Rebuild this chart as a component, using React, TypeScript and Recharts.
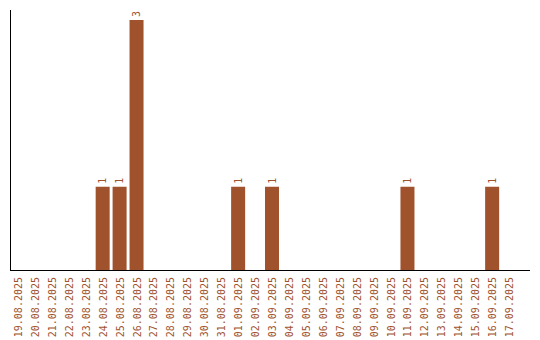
import { BarChart, Bar, XAxis, YAxis, LabelList } from 'recharts'

const dates = [
  '19.08.2025', '20.08.2025', '21.08.2025', '22.08.2025', '23.08.2025', '24.08.2025',
  '25.08.2025', '26.08.2025', '27.08.2025', '28.08.2025', '29.08.2025', '30.08.2025',
  '31.08.2025', '01.09.2025', '02.09.2025', '03.09.2025', '04.09.2025', '05.09.2025',
  '06.09.2025', '07.09.2025', '08.09.2025', '09.09.2025', '10.09.2025', '11.09.2025',
  '12.09.2025', '13.09.2025', '14.09.2025', '15.09.2025', '16.09.2025', '17.09.2025',
]
const counts = [0, 0, 0, 0, 0, 1, 1, 3, 0, 0, 0, 0, 0, 1, 0, 1, 0, 0, 0, 0, 0, 0, 0, 1, 0, 0, 0, 0, 1, 0]

const SIENNA = '#a0522d'
const FONT = '"DejaVu Sans Mono", monospace'

const data = dates.map((d, i) => ({ date: d, count: counts[i] }))

function DateTick(props: any) {
  const { x, y, payload } = props
  return (
    <g transform={`translate(${x},${y - 1})`}>
      <text transform="rotate(-90)" x={0} y={0} dy="0.35em" textAnchor="end" fill={SIENNA} fontSize={10} fontFamily={FONT}>
        {payload.value}
      </text>
    </g>
  )
}

function ValueLabel(props: any) {
  const { x, y, width, value } = props
  if (!value) return null
  return (
    <g transform={`translate(${x + width / 2},${y - 3})`}>
      <text transform="rotate(-90)" x={0} y={0} dy="0.35em" textAnchor="start" fill={SIENNA} fontSize={10} fontFamily={FONT}>
        {value}
      </text>
    </g>
  )
}

const axisLine = { stroke: '#000', strokeWidth: 1, shapeRendering: 'crispEdges' }

export default function App() {
  return (
    <BarChart width={532} height={332} data={data} margin={{ top: 2, right: 10, left: 1, bottom: 0 }}>
      <XAxis
        dataKey="date"
        interval={0}
        height={70}
        padding={{ left: 0, right: 12 }}
        tickLine={false}
        axisLine={axisLine}
        tick={<DateTick />}
      />
      <YAxis width={1} domain={[0, 3]} padding={{ top: 10 }} tick={false} tickLine={false} axisLine={axisLine} />
      <Bar dataKey="count" fill={SIENNA} barSize={14} isAnimationActive={false}>
        <LabelList dataKey="count" content={<ValueLabel />} />
      </Bar>
    </BarChart>
  )
}
